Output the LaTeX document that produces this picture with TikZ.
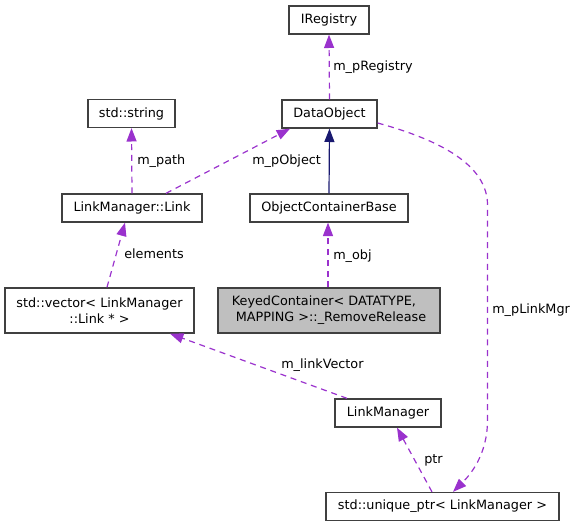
\documentclass[tikz,border=0pt]{standalone}
\usepackage{fontspec}
\setmainfont{DejaVu Sans}
\usetikzlibrary{arrows.meta}
\definecolor{edgepurple}{HTML}{9A32CD}
\definecolor{edgenavy}{HTML}{191970}
\definecolor{boxborder}{HTML}{404040}
\definecolor{boxgray}{HTML}{BFBFBF}
\tikzset{
  cls/.style={draw=boxborder, line width=1pt, fill=white, inner sep=0pt,
    minimum height=21pt, align=center, font=\fontsize{9.6}{12}\selectfont},
  clsgray/.style={cls, fill=boxgray},
  lbl/.style={anchor=west, inner sep=0pt, font=\fontsize{9.6}{12}\selectfont},
  usage/.style={draw=edgepurple, line width=0.9pt, dash pattern=on 4.5pt off 3.6pt,
    -{Triangle[length=10pt,width=7.5pt]}, fill=none},
  inherit/.style={draw=edgenavy, line width=0.9pt,
    -{Triangle[length=10pt,width=7.5pt]}}
}
\begin{document}
\begin{tikzpicture}[x=0.75pt,y=-0.75pt]
\useasboundingbox (0,0) rectangle (577,527);
% nodes
\node[cls, minimum width=60pt] (ireg) at (329,20) {IRegistry};
\node[cls, minimum width=71.25pt] (dobj) at (329.5,114) {DataObject};
\node[cls, minimum width=65.25pt] (str) at (131.5,113.5) {std::string};
\node[cls, minimum width=105pt] (link) at (132,208) {LinkManager::Link};
\node[cls, minimum width=118.5pt] (ocb) at (329,208) {ObjectContainerBase};
\node[cls, minimum width=141.75pt, minimum height=33.75pt] (vec) at (99.5,310.5) {std::vector\textless{} LinkManager\\::Link * \textgreater{}};
\node[clsgray, minimum width=166.5pt, minimum height=33.75pt, align=left] (kc) at (329,310.5) {KeyedContainer\textless{} DATATYPE,\\\hspace*{3pt}MAPPING \textgreater{}::\_RemoveRelease};
\node[cls, minimum width=79.5pt] (lm) at (388,413) {LinkManager};
\node[cls, minimum width=174.75pt] (uptr) at (442.5,506.5) {std::unique\_ptr\textless{} LinkManager \textgreater{}};
% edges
\draw[usage] (dobj.north) -- (ireg.south);
\draw[usage] (link.north) -- (str.south);
\draw[usage] ([xshift=25.5pt]link.north) -- ([xshift=-29.6pt]dobj.south);
\draw[inherit] (ocb.north) -- (dobj.south);
\draw[usage] ([xshift=-0.75pt]kc.north) -- ([xshift=-0.75pt]ocb.south);
\draw[usage] ([xshift=5.6pt]vec.north) -- ([xshift=-5.25pt]link.south);
\draw[usage] ([xshift=-30.75pt]lm.north) -- ([xshift=52.9pt]vec.south);
\draw[usage] ([xshift=-7.9pt]uptr.north) -- ([xshift=6.75pt]lm.south);
\coordinate (bend1) at (487.5,205);
\coordinate (bend2) at (487.5,420);
\draw[usage] ([yshift=-6.75pt]dobj.east) .. controls (440,140) and (487.5,165) .. (bend1)
  -- (bend2) .. controls (487.5,455) and (470,475) .. ([xshift=7.9pt]uptr.north);
% labels
\node[lbl] (l1) at (333,67) {m\_pRegistry};
\node[lbl] (l2) at (137,161) {m\_path};
\node[lbl] (l3) at (252,161) {m\_pObject};
\node[lbl] (l4) at (333,256) {m\_obj};
\node[lbl] (l5) at (124,254) {elements};
\node[lbl] (l6) at (281,365) {m\_linkVector};
\node[lbl] (l7) at (424,460) {ptr};
\node[lbl] (l8) at (492,310) {m\_pLinkMgr};
\end{tikzpicture}
\end{document}
